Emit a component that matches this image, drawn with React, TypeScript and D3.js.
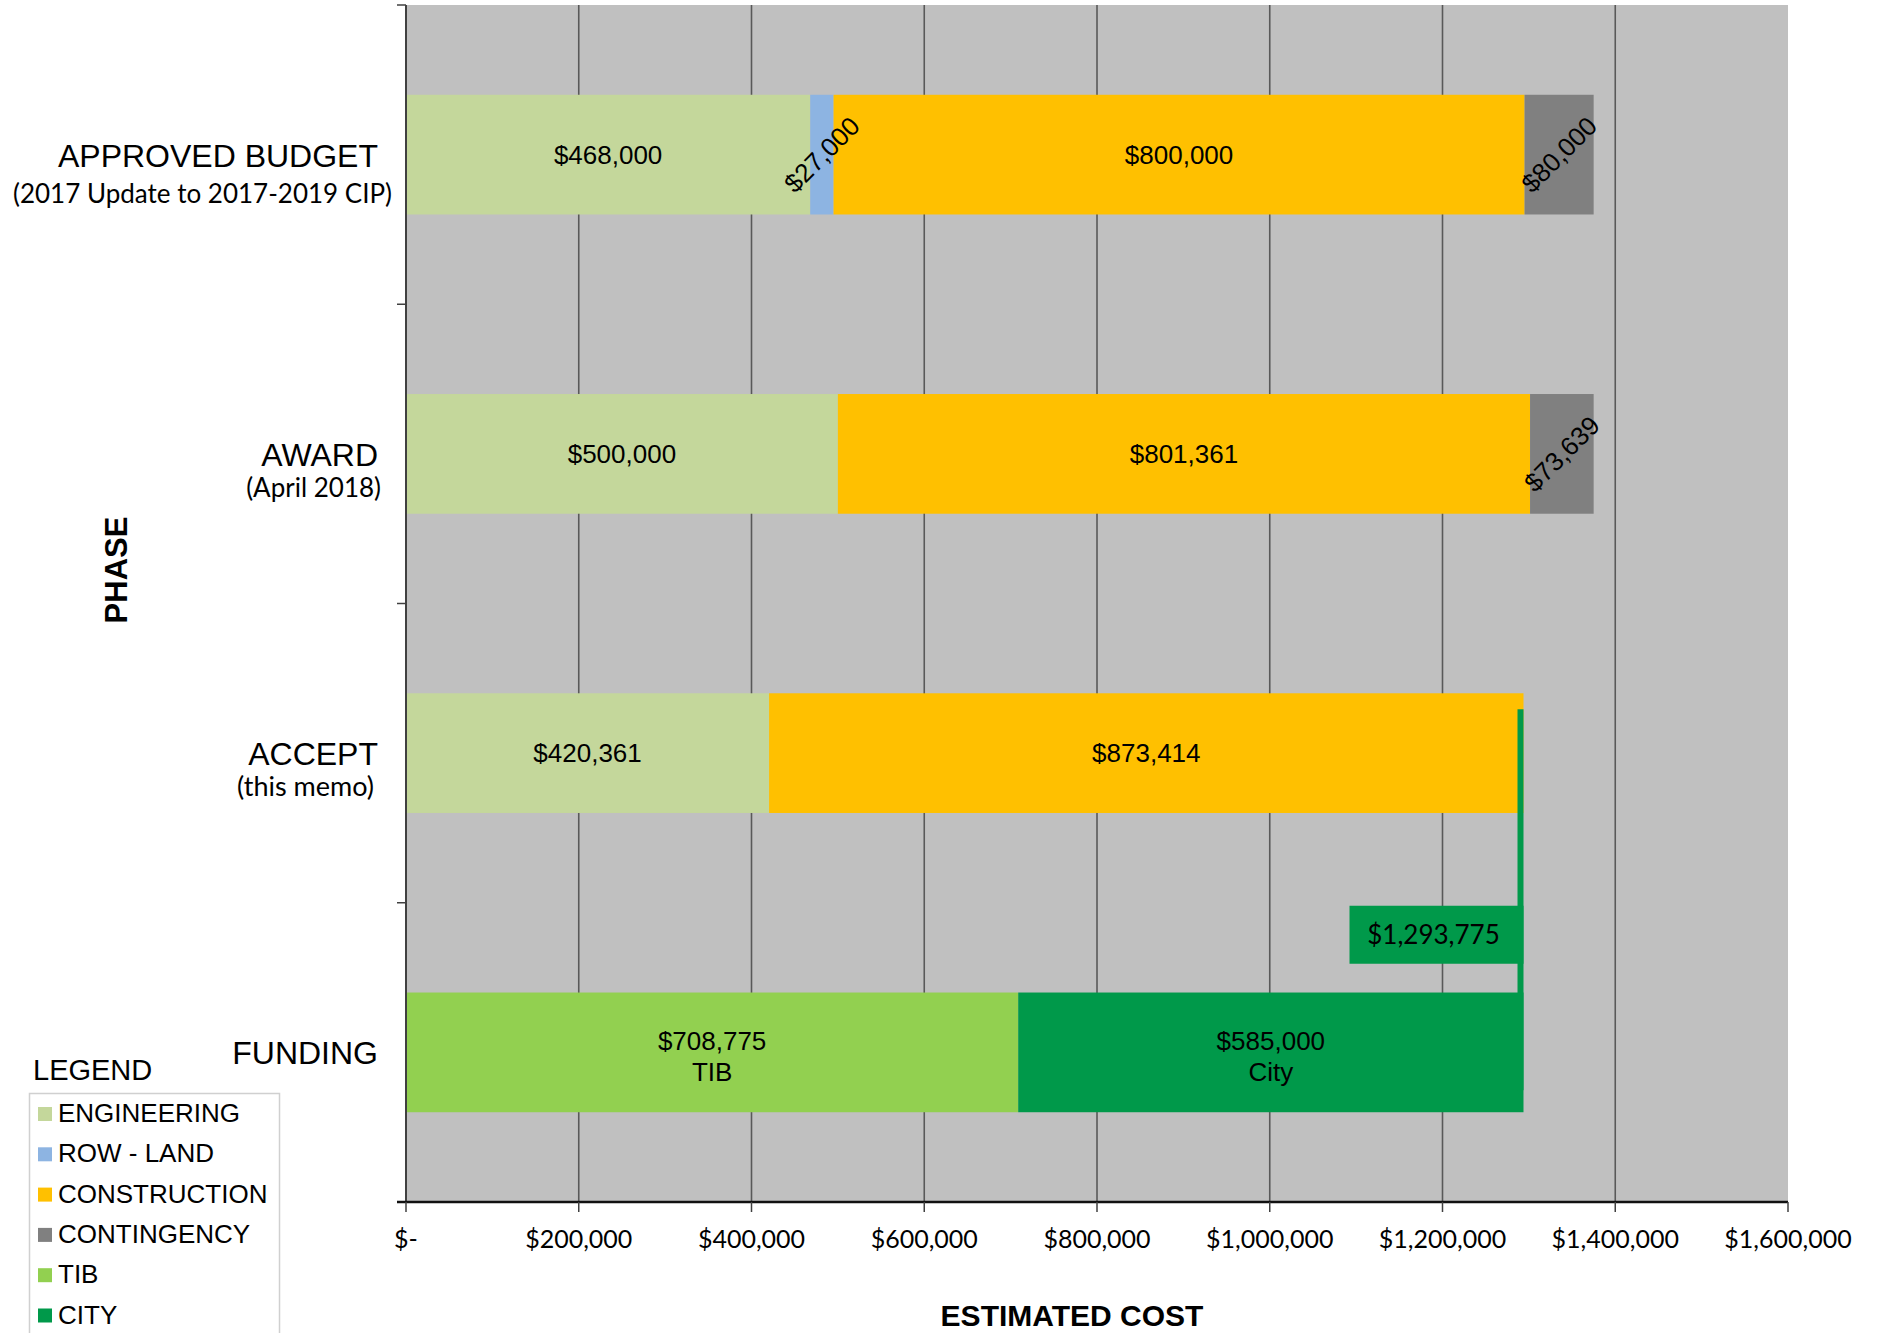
import React, { useEffect, useRef } from 'react';
import * as d3 from 'd3';

// phases, top to bottom
const phases = ['APPROVED BUDGET', 'AWARD', 'ACCEPT', 'FUNDING'];
const phaseNotes = ['(2017 Update to 2017-2019 CIP)', '(April 2018)', '(this memo)', ''];

const seriesNames = ['ENGINEERING', 'ROW - LAND', 'CONSTRUCTION', 'CONTINGENCY', 'TIB', 'CITY'];
const seriesColors = ['#C4D79B', '#8DB4E2', '#FFC000', '#808080', '#92D050', '#00994A'];
const seriesNotes = ['', '', '', '', 'TIB', 'City'];

const engineering = [468000, 500000, 420361, 0];
const rowLand = [27000, 0, 0, 0];
const construction = [800000, 801361, 873414, 0];
const contingency = [80000, 73639, 0, 0];
const tib = [0, 0, 0, 708775];
const city = [0, 0, 0, 585000];

const xTicks = [0, 200000, 400000, 600000, 800000, 1000000, 1200000, 1400000, 1600000];

const ARIAL = '"Liberation Sans", Arial, sans-serif';
const CALIBRI = 'Lato, "Open Sans", sans-serif';

const W = 1877;
const H = 1333;

const money = (v: number) => (v === 0 ? '$-' : '$' + d3.format(',')(v));

const App: React.FC = () => {
  const svgRef = useRef<SVGSVGElement>(null);

  useEffect(() => {
    const svg = d3.select(svgRef.current);
    svg.selectAll('*').remove();

    const plot = { left: 406, right: 1788, top: 5, bottom: 1202 };

    const x = d3.scaleLinear().domain([0, 1600000]).range([plot.left, plot.right]);
    const y = d3.scaleBand<string>()
      .domain(phases)
      .range([plot.top, plot.bottom])
      .paddingInner(0.6)
      .paddingOuter(0.3);

    const series = [engineering, rowLand, construction, contingency, tib, city];
    const rows = phases.map((p, i) => {
      const r: any = { phase: p };
      seriesNames.forEach((s, j) => (r[s] = series[j][i]));
      return r;
    });
    const stacked = d3.stack<any>().keys(seriesNames)(rows);

    // plot background
    svg.append('rect')
      .attr('x', plot.left).attr('y', plot.top)
      .attr('width', plot.right - plot.left).attr('height', plot.bottom - plot.top)
      .attr('fill', '#C0C0C0');

    // vertical gridlines
    svg.append('g')
      .selectAll('line')
      .data(xTicks.slice(1, -1))
      .enter()
      .append('line')
      .attr('x1', d => x(d)).attr('x2', d => x(d))
      .attr('y1', plot.top).attr('y2', plot.bottom)
      .attr('stroke', '#595959').attr('stroke-width', 1.6);

    // bars
    stacked.forEach((layer, j) => {
      svg.append('g')
        .selectAll('rect')
        .data(layer.filter(d => d[1] - d[0] > 0))
        .enter()
        .append('rect')
        .attr('x', d => x(d[0]))
        .attr('width', d => x(d[1]) - x(d[0]))
        .attr('y', d => y(d.data.phase) as number)
        .attr('height', y.bandwidth())
        .attr('fill', seriesColors[j]);
    });

    // segment labels
    stacked.forEach((layer, j) => {
      layer.filter(d => d[1] - d[0] > 0).forEach(d => {
        const v = d[1] - d[0];
        const cx = (x(d[0]) + x(d[1])) / 2;
        const cy = (y(d.data.phase) as number) + y.bandwidth() / 2;
        const narrow = x(d[1]) - x(d[0]) < 100;
        const note = seriesNotes[j];
        const t = svg.append('text')
          .attr('font-family', ARIAL)
          .attr('font-size', 26)
          .attr('fill', '#000')
          .attr('text-anchor', 'middle');
        if (narrow) {
          t.attr('transform', `translate(${cx},${cy}) rotate(-45)`)
            .attr('dy', '0.35em')
            .text(money(v));
        } else if (note) {
          t.attr('x', cx).attr('y', cy - 2).text(money(v));
          svg.append('text')
            .attr('font-family', ARIAL).attr('font-size', 26)
            .attr('text-anchor', 'middle')
            .attr('x', cx).attr('y', cy + 29)
            .text(note);
        } else {
          t.attr('x', cx).attr('y', cy).attr('dy', '0.35em').text(money(v));
        }
      });
    });

    // ACCEPT total callout
    const acceptIdx = phases.indexOf('ACCEPT');
    const acceptTotal = series.reduce((s, arr) => s + arr[acceptIdx], 0);
    const xt = x(acceptTotal);
    const fundTop = y('FUNDING') as number;
    svg.append('rect')
      .attr('x', xt - 6).attr('width', 6)
      .attr('y', (y('ACCEPT') as number) + 16)
      .attr('height', fundTop + y.bandwidth() - 22 - ((y('ACCEPT') as number) + 16))
      .attr('fill', seriesColors[5]);
    const boxCy = fundTop - y.step() * y.paddingInner() / 2 + 32;
    svg.append('rect')
      .attr('x', xt - 174).attr('width', 174)
      .attr('y', boxCy - 29).attr('height', 58)
      .attr('fill', seriesColors[5]);
    svg.append('text')
      .attr('x', xt - 90).attr('y', boxCy).attr('dy', '0.35em')
      .attr('text-anchor', 'middle')
      .attr('font-family', CALIBRI).attr('font-size', 26)
      .text(money(acceptTotal));

    // left axis
    svg.append('line')
      .attr('x1', plot.left).attr('x2', plot.left)
      .attr('y1', plot.top).attr('y2', plot.bottom)
      .attr('stroke', '#404040').attr('stroke-width', 2);
    const bounds = phases.map(p => (y(p) as number) - y.step() * y.paddingInner() / 2);
    bounds.push(plot.bottom);
    svg.append('g')
      .selectAll('line')
      .data(bounds)
      .enter()
      .append('line')
      .attr('x1', plot.left - 9).attr('x2', plot.left)
      .attr('y1', d => d).attr('y2', d => d)
      .attr('stroke', '#404040').attr('stroke-width', 1.5);

    // bottom axis
    svg.append('line')
      .attr('x1', plot.left - 9).attr('x2', plot.right)
      .attr('y1', plot.bottom).attr('y2', plot.bottom)
      .attr('stroke', '#111').attr('stroke-width', 2.5);
    const xAxis = svg.append('g');
    xAxis.selectAll('line')
      .data(xTicks)
      .enter()
      .append('line')
      .attr('x1', d => x(d)).attr('x2', d => x(d))
      .attr('y1', plot.bottom).attr('y2', plot.bottom + 10)
      .attr('stroke', '#404040').attr('stroke-width', 1.5);
    xAxis.selectAll('text')
      .data(xTicks)
      .enter()
      .append('text')
      .attr('x', d => x(d))
      .attr('y', 1248)
      .attr('text-anchor', 'middle')
      .attr('font-family', CALIBRI)
      .attr('font-size', 25)
      .text(d => money(d));

    // category labels
    phases.forEach((p, i) => {
      const cy = (y(p) as number) + y.bandwidth() / 2;
      svg.append('text')
        .attr('x', 378).attr('y', cy + 12)
        .attr('text-anchor', 'end')
        .attr('font-family', ARIAL).attr('font-size', 32)
        .text(p);
      if (phaseNotes[i]) {
        const subX = i === 0 ? 392 : i === 2 ? 374 : 381;
        svg.append('text')
          .attr('x', subX).attr('y', cy + (i === 0 ? 48 : 43))
          .attr('text-anchor', 'end')
          .attr('font-family', CALIBRI).attr('font-size', i === 2 ? 27 : 26)
          .text(phaseNotes[i]);
      }
    });

    // axis titles
    svg.append('text')
      .attr('transform', 'translate(127,570) rotate(-90)')
      .attr('text-anchor', 'middle')
      .attr('font-family', ARIAL).attr('font-weight', 'bold').attr('font-size', 31)
      .text('PHASE');
    svg.append('text')
      .attr('x', 1072).attr('y', 1326)
      .attr('text-anchor', 'middle')
      .attr('font-family', ARIAL).attr('font-weight', 'bold').attr('font-size', 30)
      .text('ESTIMATED COST');

    // legend
    svg.append('text')
      .attr('x', 33).attr('y', 1080)
      .attr('font-family', ARIAL).attr('font-size', 29)
      .text('LEGEND');
    svg.append('rect')
      .attr('x', 29.5).attr('y', 1093.5)
      .attr('width', 250).attr('height', 260)
      .attr('fill', '#fff').attr('stroke', '#D0D0D0').attr('stroke-width', 1.5);
    const lg = svg.append('g')
      .selectAll('g')
      .data(seriesNames)
      .enter()
      .append('g')
      .attr('transform', (_, i) => `translate(0,${1122 + i * 40.3})`);
    lg.append('rect')
      .attr('x', 38).attr('y', -15).attr('width', 14).attr('height', 14)
      .attr('fill', (_, i) => seriesColors[i]);
    lg.append('text')
      .attr('x', 58).attr('y', 0)
      .attr('font-family', ARIAL).attr('font-size', 26)
      .text(d => d);
  }, []);

  return (
    <svg
      ref={svgRef}
      width={W}
      height={H}
      style={{ position: 'absolute', left: 0, top: 0, background: '#fff', display: 'block' }}
    />
  );
};

export default App;
